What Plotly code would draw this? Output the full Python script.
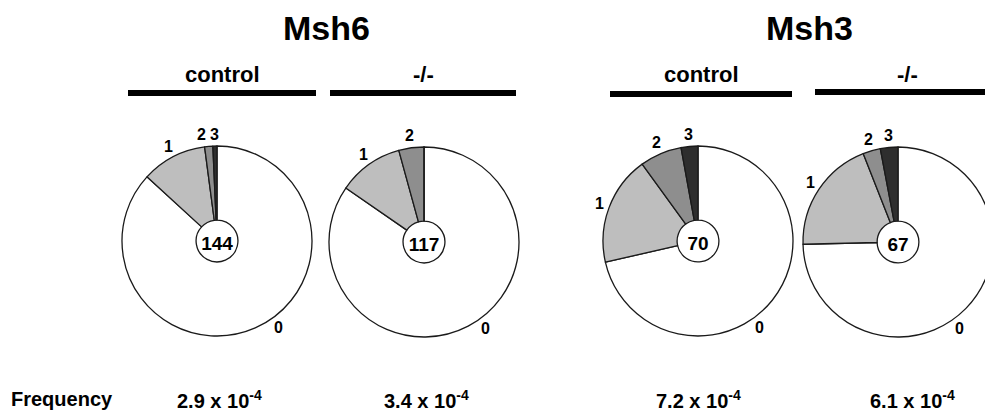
import math
import plotly.graph_objects as go

# ---------------- data ----------------
genes = ["Msh6", "Msh3"]
groups = ["control", "-/-", "control", "-/-"]
slice_labels = ["0", "1", "2", "3"]
msh6_control = [125, 16, 2, 1]
msh6_ko = [99, 13, 5, 0]
msh3_control = [50, 13, 5, 2]
msh3_ko = [50, 13, 2, 2]
pie_values = [msh6_control, msh6_ko, msh3_control, msh3_ko]
totals = [144, 117, 70, 67]
freq_mantissa = ["2.9", "3.4", "7.2", "6.1"]
freq_exponent = ["-4", "-4", "-4", "-4"]

# ---------------- layout / style ----------------
# page has an 8px body margin; positions below are in window pixels
OFF = 8
W, H = 993 - OFF, 412 - OFF
FONT = "Liberation Sans, Arial, sans-serif"
PIE_CX = [217, 424, 698, 898]
PIE_CY = [241, 242, 241, 242]
R = 95
HOLE = 0.22
SLICE_COLORS = ["#ffffff", "#bebebe", "#8e8e8e", "#2e2e2e"]
ZERO_LABEL_ANGLE = 144   # the big "0" slice is labelled at the lower right
GENE_X = [326, 809]
GENE_Y = 28
BAR_X0 = [128, 330, 610, 815]
BAR_X1 = [316, 516, 792, 1000]
BAR_Y = [93, 93, 94, 92]
GROUP_X = [222, 423, 701, 907]
GROUP_Y = 74
FREQ_X = [219, 426, 698, 912]
FREQ_Y = 399


def px(x):
    return (x - OFF) / W


def py(y):
    return 1 - (y - OFF) / H


fig = go.Figure()
annotations = []
shapes = []

for i, vals in enumerate(pie_values):
    cx, cy = PIE_CX[i], PIE_CY[i]
    fig.add_trace(go.Pie(
        values=vals,
        labels=slice_labels,
        sort=False,
        direction="clockwise",
        rotation=0,
        hole=HOLE,
        textinfo="none",
        hoverinfo="label+value",
        showlegend=False,
        marker=dict(colors=SLICE_COLORS, line=dict(color="#1a1a1a", width=1.3)),
        domain=dict(x=[max(0, px(cx - R)), min(1, px(cx + R))],
                    y=[max(0, py(cy + R)), min(1, py(cy - R))]),
        title=dict(text=f"<b>{totals[i]}</b>", position="middle center",
                   font=dict(size=19, color="black", family=FONT)),
    ))

    # slice labels outside the arc, at each slice's mid angle
    total = sum(vals)
    cum = 0
    pos = []
    for k, v in enumerate(vals):
        if v > 0:
            ang = (cum + v / 2) / total * 360
            if k == 0:
                ang = ZERO_LABEL_ANGLE
            theta = math.radians(ang)
            s, c = math.sin(theta), math.cos(theta)
            lx = cx + (R + 5) * s + 5 * s
            ly = cy - (R + 5) * c - 7 * c
            pos.append([k, lx, ly])
        cum += v
    # resolve overlaps between neighbouring small slices (push leftwards)
    pos.sort(key=lambda p: -p[0])
    for j in range(1, len(pos)):
        a, b = pos[j - 1], pos[j]
        if abs(a[2] - b[2]) < 14 and a[1] - b[1] < 13 and b[0] != 0:
            b[1] = a[1] - 13
    for k, lx, ly in pos:
        annotations.append(dict(
            x=px(lx), y=py(ly), xref="paper", yref="paper",
            text=f"<b>{slice_labels[k]}</b>", showarrow=False,
            xanchor="center", yanchor="middle",
            font=dict(size=16, color="black", family=FONT)))

# gene titles
for g, gx in zip(genes, GENE_X):
    annotations.append(dict(
        x=px(gx), y=py(GENE_Y), xref="paper", yref="paper",
        text=f"<b>{g}</b>", showarrow=False, xanchor="center", yanchor="middle",
        font=dict(size=34, color="black", family=FONT)))

# group labels and bars
for j, grp in enumerate(groups):
    annotations.append(dict(
        x=px(GROUP_X[j]), y=py(GROUP_Y), xref="paper", yref="paper",
        text=f"<b>{grp}</b>", showarrow=False, xanchor="center", yanchor="middle",
        font=dict(size=22, color="black", family=FONT)))
    shapes.append(dict(
        type="line", xref="paper", yref="paper",
        x0=px(BAR_X0[j]), x1=px(BAR_X1[j]), y0=py(BAR_Y[j]), y1=py(BAR_Y[j]),
        line=dict(color="black", width=6)))

# frequency row
annotations.append(dict(
    x=px(9), y=py(FREQ_Y), xref="paper", yref="paper",
    text="<b>Frequency</b>", showarrow=False, xanchor="left", yanchor="middle",
    font=dict(size=20, color="black", family=FONT)))
for j in range(4):
    annotations.append(dict(
        x=px(FREQ_X[j]), y=py(FREQ_Y), xref="paper", yref="paper",
        text=f"<b>{freq_mantissa[j]} x 10<sup>{freq_exponent[j]}</sup></b>",
        showarrow=False, xanchor="center", yanchor="middle",
        font=dict(size=20, color="black", family=FONT)))

fig.update_layout(
    width=W, height=H,
    margin=dict(l=0, r=0, t=0, b=0),
    paper_bgcolor="white", plot_bgcolor="white",
    annotations=annotations, shapes=shapes,
    font=dict(family=FONT, color="black"),
)

fig.write_html("out.html")
